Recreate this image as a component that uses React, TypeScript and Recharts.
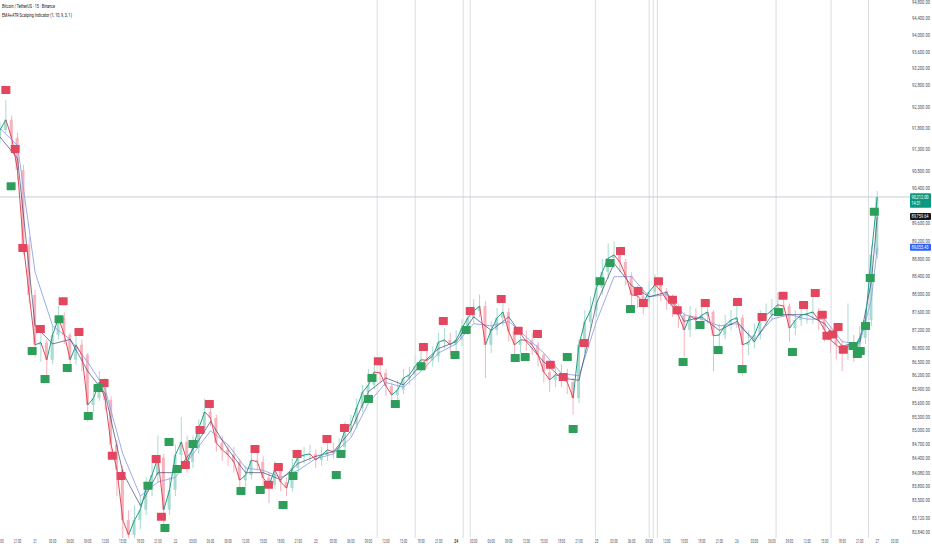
import React from "react";
import {
  ComposedChart,
  XAxis,
  YAxis,
  Bar,
  Line,
  Scatter,
  ReferenceLine,
} from "recharts";

// hours from 21 Nov 00:00, one candle per hour
const START_T = -6;
const END_T = 149.6;
const Y_DOMAIN: [number, number] = [82713, 94848];
const FIRST_OPEN = 91600;

const CLOSES = [
  91760, 92000, 91580, 90830, 89120, 87990,
  86880, 86930, 86550, 87100, 87480, 87100, 86550, 86880, 86660, 85560, 85710, 86060,
  85670, 84700, 84160, 83090, 82780, 83090, 83310, 83770, 84050, 84420, 83310, 83730,
  84480, 84760, 84330, 84630, 85060, 85410, 85280, 84740, 84590, 84480, 84330, 83940,
  84050, 84370, 84330, 83990, 83840, 84160, 83900, 83770, 84200, 84440, 84480, 84500,
  84370, 84480, 84590, 84540, 84650, 85020, 85150, 85500, 85840, 86000, 86280, 86260,
  85970, 85780, 85890, 86150, 86220, 86410, 86550, 86540, 86630, 86940, 86990, 86880,
  86990, 87250, 87480, 87630, 87740, 86880, 87210, 87480, 87610, 87170, 86880, 86990,
  86980, 86880, 86660, 86280, 86110, 86220, 86190, 86060, 85710, 86880, 87390, 87650,
  88150, 88510, 88820, 88890, 88730, 88420, 87990, 87970, 87830, 88060, 88220, 88080,
  87880, 87740, 87540, 87210, 87520, 87430, 87540, 87610, 87080, 87100, 87320, 87430,
  87480, 86880, 86940, 87100, 87430, 87540, 87650, 87770, 87740, 87250, 87430, 87540,
  87570, 87610, 87430, 87210, 86990, 86880, 86770, 86860, 86810, 87030, 87430, 88900,
  90212,
];

const HIGHS = [
  91950, 92460, 92100, 91700, 90950, 89300,
  88100, 87250, 87000, 87300, 87750, 87600, 87150, 87100, 87000, 86700, 86000, 86300,
  86150, 85750, 84800, 84250, 83300, 83400, 83600, 84000, 84300, 84900, 84500, 84000,
  84700, 85300, 84900, 84900, 85250, 85700, 85600, 85350, 84900, 84700, 84650, 84400,
  84250, 84550, 84600, 84450, 84100, 84350, 84250, 84000, 84400, 84600, 84650, 84700,
  84600, 84650, 84800, 84750, 84850, 85200, 85350, 85700, 86000, 86350, 86600, 86500,
  86350, 86050, 86100, 86350, 86400, 86650, 86800, 86750, 86850, 87150, 87250, 87150,
  87200, 87450, 87700, 87900, 88000, 87850, 87400, 87700, 87950, 87700, 87250, 87200,
  87200, 87150, 86950, 86700, 86400, 86450, 86450, 86350, 86150, 87000, 87650, 87950,
  88400, 88800, 89150, 89200, 89050, 88800, 88500, 88200, 88100, 88300, 88450, 88350,
  88150, 88000, 87800, 87600, 87750, 87700, 87800, 87850, 87650, 87350, 87550, 87650,
  87750, 87550, 87200, 87350, 87650, 87800, 87900, 88050, 88000, 87800, 87650, 87800,
  87850, 87950, 87700, 87500, 87300, 87150, 87000, 87800, 87100, 87300, 87650, 89100,
  90350,
];

const LOWS = [
  91450, 91700, 91400, 90600, 88900, 87800,
  86600, 86500, 86200, 86450, 87000, 86900, 86300, 86450, 86300, 85200, 85400, 85650,
  85450, 84500, 83600, 82700, 82600, 82650, 82900, 83200, 83600, 83900, 83000, 83200,
  83600, 84350, 84100, 84200, 84500, 84950, 85100, 84550, 84350, 84250, 84100, 83750,
  83800, 83950, 84150, 83800, 83450, 83750, 83700, 83600, 83700, 84100, 84300, 84350,
  84200, 84250, 84350, 84400, 84450, 84550, 84900, 85050, 85400, 85700, 85900, 86050,
  85750, 85550, 85650, 85800, 86000, 86100, 86300, 86350, 86400, 86500, 86800, 86650,
  86700, 86850, 87100, 87350, 87500, 86150, 86700, 87100, 87300, 86950, 86600, 86700,
  86750, 86650, 86400, 86050, 85850, 85950, 85950, 85800, 85350, 85600, 86700, 87250,
  87500, 88000, 88350, 88600, 88500, 88200, 87750, 87700, 87550, 87700, 87950, 87850,
  87650, 87500, 87250, 86600, 87050, 87200, 87300, 87350, 86300, 86850, 87000, 87200,
  87250, 86200, 86650, 86800, 87000, 87300, 87400, 87500, 87500, 86950, 87100, 87300,
  87350, 87350, 87200, 86950, 86700, 86550, 86300, 86550, 86500, 86700, 86900, 87300,
  88800,
];

// slower EMA (light blue) and ATR trail (navy), read every 3 hours
const LINE_TIMES = [
  -6, -3, 0, 3, 6, 9, 12, 15, 18, 21, 24, 27, 30, 33, 36, 39, 42, 45, 48, 51, 54, 57, 60,
  63, 66, 69, 72, 75, 78, 81, 84, 87, 90, 93, 96, 99, 102, 105, 108, 111, 114, 117, 120,
  123, 126, 129, 132, 135, 138, 141, 143, 144,
];
const SLOW_EMA = [
  91800, 91400, 88500, 87300, 87000, 86500, 85900, 84500, 83600, 83900, 84000, 84500,
  85000, 84700, 84200, 84150, 84000, 84150, 84400, 84500, 84850, 85600, 86050, 85950,
  86300, 86700, 86900, 87350, 87300, 87400, 87050, 86700, 86250, 86200, 87400, 88400,
  88400, 87950, 88000, 87550, 87450, 87300, 87350, 87000, 87450, 87550, 87450, 87450,
  86950, 86900, 87900, 89055,
];
const ATR_TRAIL = [
  91600, 91100, 87300, 86900, 87000, 86300, 85800, 84100, 83400, 84100, 84100, 84600,
  85200, 84600, 84100, 84100, 83950, 84300, 84450, 84550, 85000, 85850, 86150, 86000,
  86450, 86800, 86950, 87500, 87200, 87500, 86950, 86500, 86150, 86100, 87800, 88700,
  88200, 87950, 88050, 87400, 87500, 87200, 87400, 86950, 87550, 87550, 87550, 87350,
  86850, 86950, 88300, 89760,
];

const SELL_TIMES = [
  -5.0, -3.4, -2.1, 0.9, 4.8, 7.5, 11.8, 13.2, 14.7, 20.7, 21.6, 25.7, 28.2, 29.8, 37.6,
  39.9, 41.6, 44.8, 49.9, 52.9, 58.7, 66.4, 69.8, 74.4, 79.7, 82.6, 85.9, 88.1, 90.3,
  93.9, 100.1, 103.1, 104.0, 106.6, 109.0, 109.8, 114.6, 120.1, 124.3, 127.9, 131.4,
  133.4, 134.6, 135.4, 136.4, 137.3, 138.2,
];
const SELL_PRICES = [
  92700, 91320, 89050, 87230, 87850, 87165, 86040, 84460, 84030, 84390, 83160, 84265,
  85020, 85580, 84610, 83840, 84220, 84500, 84825, 85060, 86520, 86830, 87410, 87630,
  87900, 87190, 87120, 86440, 86170, 86920, 88980, 88080, 87810, 88300, 87880, 87650,
  87810, 87830, 87500, 87970, 87765, 88035, 87545, 87080, 87110, 87275, 86770,
];
const BUY_TIMES = [
  -4.1, -0.5, 1.7, 4.1, 5.5, 9.1, 10.8, 19.3, 22.2, 22.9, 24.3, 27.0, 35.2, 38.5, 42.4,
  44.1, 51.5, 52.3, 57.0, 57.6, 61.6, 66.0, 71.8, 73.7, 82.1, 83.8, 91.0, 92.0, 96.6,
  98.3, 101.8, 110.8, 113.7, 116.8, 120.9, 127.1, 129.5, 139.9, 140.6, 141.1, 142.0,
  142.8, 143.5,
];
const BUY_PRICES = [
  90460, 86745, 86130, 87450, 86370, 85320, 85930, 83820, 82925, 84760, 84180, 84715,
  83710, 83730, 83410, 84030, 84050, 84500, 85690, 86150, 85580, 86410, 86655, 87210,
  86590, 86610, 86610, 85040, 88300, 88710, 87675, 86500, 87320, 86765, 86350, 87610,
  86720, 86855, 86680, 86745, 87300, 88370, 89870,
];

const SESSION_LINES = [58.5, 65.0, 73.2, 74.4, 95.8, 105.0, 105.7, 106.4, 126.7, 136.1, 142.5];

const PRICE_TICKS = [
  94800, 94400, 94000, 93600, 93200, 92800, 92300, 91800, 91300, 90800, 90400, 89600,
  89200, 88800, 88400, 88000, 87600, 87200, 86800, 86500, 86200, 85900, 85600, 85300,
  85000, 84700, 84400, 84080, 83800, 83500, 83120, 82840,
];

const TIME_LABELS = [
  "18:00", "21:00",
  "21", "03:00", "06:00", "09:00", "12:00", "15:00", "18:00", "21:00",
  "22", "03:00", "06:00", "09:00", "12:00", "15:00", "18:00", "21:00",
  "23", "03:00", "06:00", "09:00", "12:00", "15:00", "18:00", "21:00",
  "24", "03:00", "06:00", "09:00", "12:00", "15:00", "18:00", "21:00",
  "25", "03:00", "06:00", "09:00", "12:00", "15:00", "18:00", "21:00",
  "26", "03:00", "06:00", "09:00", "12:00", "15:00", "18:00", "21:00",
  "27", "03:00",
];
const TIME_TICKS = TIME_LABELS.map((_, i) => START_T + i * 3);

const LAST_PRICE = 90212;
const TRAIL_LAST = 89759.64;
const SLOW_LAST = 89055.43;

const UP = "#1f9e89";
const DOWN = "#e04a5a";
const UP_PALE = "#a9dccf";
const DOWN_PALE = "#f5b3bd";
const SELL_COLOR = "#e3475f";
const BUY_COLOR = "#2e9e5b";
const FONT = "Roboto, 'Liberation Sans', sans-serif";

const candles = CLOSES.map((close, i) => {
  const open = i === 0 ? FIRST_OPEN : CLOSES[i - 1];
  return {
    t: START_T + i,
    close,
    wick: [LOWS[i], HIGHS[i]],
    body: [Math.min(open, close), Math.max(open, close) + 1],
    up: close >= open,
  };
});

const slowData = LINE_TIMES.map((t, i) => ({ t, v: SLOW_EMA[i] }));
const trailData = LINE_TIMES.map((t, i) => ({ t, v: ATR_TRAIL[i] }));
const sells = SELL_TIMES.map((t, i) => ({ t, p: SELL_PRICES[i] }));
const buys = BUY_TIMES.map((t, i) => ({ t, p: BUY_PRICES[i] }));

const fmt = (v: number) =>
  v.toLocaleString("en-US", { minimumFractionDigits: 2, maximumFractionDigits: 2 });

const span = CLOSES.length - 1;
const gradStops: React.ReactNode[] = [];
for (let i = 0; i < span; i++) {
  const c = CLOSES[i + 1] >= CLOSES[i] ? UP : DOWN;
  gradStops.push(
    <stop key={`a${i}`} offset={i / span} stopColor={c} />,
    <stop key={`b${i}`} offset={(i + 1) / span} stopColor={c} />
  );
}

const Wick = (props: any) => {
  const { x, y, width, height, payload } = props;
  if (height == null || isNaN(height)) return null;
  return (
    <rect
      x={x + width / 2 - 0.5}
      y={y}
      width={1}
      height={Math.max(height, 1)}
      fill={payload.up ? UP_PALE : DOWN_PALE}
    />
  );
};

const Body = (props: any) => {
  const { x, y, width, height, payload } = props;
  if (height == null || isNaN(height)) return null;
  return (
    <rect
      x={x}
      y={y}
      width={width}
      height={Math.max(height, 1)}
      fill={payload.up ? UP_PALE : DOWN_PALE}
    />
  );
};

const marker = (color: string) => (props: any) => (
  <rect x={props.cx - 4.5} y={props.cy - 4} width={9} height={8} rx={0.6} fill={color} />
);

const XTick = (props: any) => {
  const { x, payload } = props;
  const idx = Math.round((payload.value - START_T) / 3);
  const label = TIME_LABELS[idx];
  if (!label) return null;
  const isDay = label.length === 2;
  return (
    <text
      x={x}
      y={542.5}
      textAnchor="middle"
      fontSize={4.6}
      fontFamily={FONT}
      fontWeight={label === "24" ? 700 : 400}
      fill={label === "24" ? "#131722" : "#4a4e5a"}
      textLength={isDay ? 3.6 : 7.4}
      lengthAdjust="spacingAndGlyphs"
    >
      {label}
    </text>
  );
};

const YTick = (props: any) => {
  const { y, payload } = props;
  return (
    <text
      x={912}
      y={y + 1.6}
      fontSize={4.6}
      fontFamily={FONT}
      fill="#4a4e5a"
      textLength={18}
      lengthAdjust="spacingAndGlyphs"
    >
      {fmt(payload.value)}
    </text>
  );
};

const priceTag = (value: number, bg: string, sub?: string) => (props: any) => {
  const vb = props.viewBox || {};
  const x = (vb.x ?? 0) + (vb.width ?? 0);
  const y = vb.y ?? 0;
  const h = sub ? 14.5 : 7;
  return (
    <g>
      <rect x={x} y={y - 3.8} width={21} height={h} rx={1} fill={bg} />
      <text
        x={x + 1.5}
        y={y + 1.6}
        fontSize={4.6}
        fontFamily={FONT}
        fill="#ffffff"
        textLength={17}
        lengthAdjust="spacingAndGlyphs"
      >
        {fmt(value)}
      </text>
      {sub && (
        <text
          x={x + 1.5}
          y={y + 8.4}
          fontSize={4.6}
          fontFamily={FONT}
          fill="#ffffff"
          textLength={9}
          lengthAdjust="spacingAndGlyphs"
        >
          {sub}
        </text>
      )}
    </g>
  );
};

const App = () => {
  return (
    <div
      style={{
        position: "absolute",
        left: 0,
        top: 0,
        width: 932,
        height: 550,
        background: "#ffffff",
        overflow: "hidden",
      }}
    >
      <ComposedChart
        width={932}
        height={550}
        data={candles}
        margin={{ top: 0, right: 0, bottom: 0, left: 0 }}
      >
        <defs>
          <linearGradient id="closeGrad" x1="0" y1="0" x2="1" y2="0">
            {gradStops}
          </linearGradient>
        </defs>
        <XAxis
          type="number"
          dataKey="t"
          domain={[START_T, END_T]}
          ticks={TIME_TICKS}
          interval={0}
          allowDataOverflow
          axisLine={false}
          tickLine={false}
          height={12}
          tick={<XTick />}
        />
        <XAxis
          xAxisId="body"
          type="number"
          dataKey="t"
          domain={[START_T, END_T]}
          allowDataOverflow
          hide
        />
        <YAxis
          orientation="right"
          scale="log"
          type="number"
          domain={Y_DOMAIN}
          allowDataOverflow
          ticks={PRICE_TICKS}
          interval={0}
          axisLine={false}
          tickLine={false}
          width={22}
          tick={<YTick />}
        />
        {SESSION_LINES.map((t) => (
          <ReferenceLine key={t} x={t} stroke="#dadde4" strokeWidth={1} />
        ))}
        <ReferenceLine
          y={LAST_PRICE}
          stroke="#c8ccd6"
          strokeWidth={1}
          label={priceTag(LAST_PRICE, "#089981", "14:31")}
        />
        <Bar dataKey="wick" barSize={1} shape={<Wick />} isAnimationActive={false} />
        <Bar
          dataKey="body"
          xAxisId="body"
          barSize={3}
          shape={<Body />}
          isAnimationActive={false}
        />
        <Line
          data={slowData}
          dataKey="v"
          stroke="#8ea3e6"
          strokeWidth={0.9}
          dot={false}
          activeDot={false}
          isAnimationActive={false}
        />
        <Line
          data={trailData}
          dataKey="v"
          stroke="#1e2656"
          strokeWidth={0.7}
          strokeOpacity={0.85}
          dot={false}
          activeDot={false}
          isAnimationActive={false}
        />
        <Line
          dataKey="close"
          stroke="url(#closeGrad)"
          strokeWidth={1}
          dot={false}
          activeDot={false}
          isAnimationActive={false}
        />
        <Scatter data={sells} dataKey="p" shape={marker(SELL_COLOR)} isAnimationActive={false} />
        <Scatter data={buys} dataKey="p" shape={marker(BUY_COLOR)} isAnimationActive={false} />
        <ReferenceLine
          y={TRAIL_LAST}
          stroke="none"
          label={priceTag(TRAIL_LAST, "#131722")}
        />
        <ReferenceLine
          y={SLOW_LAST}
          stroke="none"
          label={priceTag(SLOW_LAST, "#2962ff")}
        />
      </ComposedChart>
      <svg
        width={200}
        height={20}
        style={{ position: "absolute", left: 0, top: 0, pointerEvents: "none" }}
      >
        <text
          x={2}
          y={8}
          fontSize={4.8}
          fontFamily={FONT}
          fill="#131722"
          textLength={53}
          lengthAdjust="spacingAndGlyphs"
        >
          Bitcoin / TetherUS · 15 · Binance
        </text>
        <text
          x={2}
          y={16.5}
          fontSize={4.6}
          fontFamily={FONT}
          fill="#131722"
          textLength={70}
          lengthAdjust="spacingAndGlyphs"
        >
          EMA+ATR Scalping Indicator (1, 10, 9, 3, 1)
        </text>
      </svg>
    </div>
  );
};

export default App;
